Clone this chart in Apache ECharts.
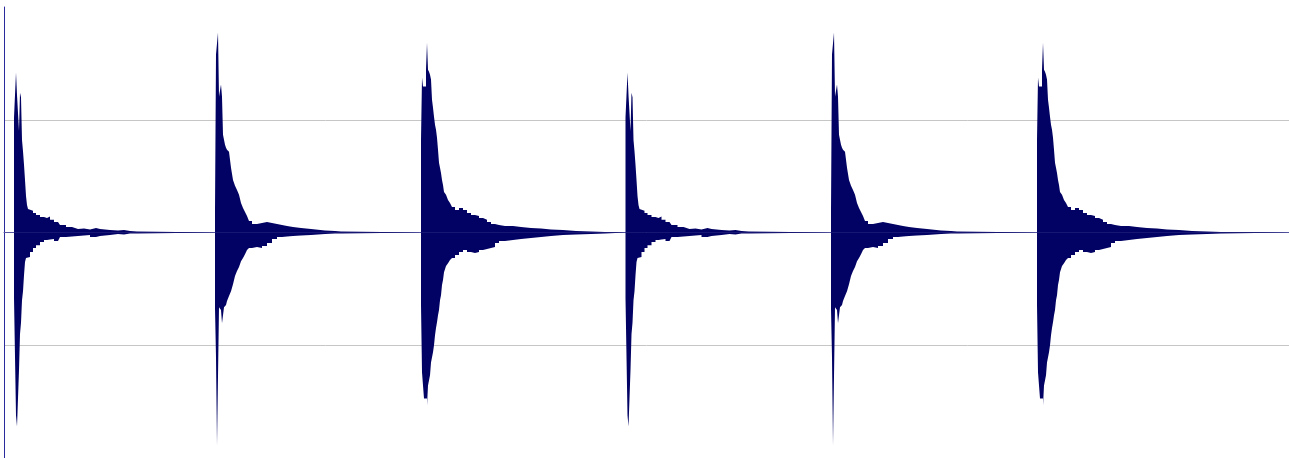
<!DOCTYPE html>
<html>
<head>
<meta charset="utf-8">
<script src="https://cdn.jsdelivr.net/npm/echarts@6/dist/echarts.min.js"></script>
<style>
  html, body { margin: 0; padding: 0; background: #ffffff; }
  #chart { width: 1289px; height: 458px; }
</style>
</head>
<body>
<div id="chart"></div>
<script>
// Waveform of six drum hits, drawn as a peak envelope (percent of full scale).
// Each hit uses one of three recorded envelopes; offsets are in time steps from the onset.

const onsets = [10, 211, 417, 621.5, 827, 1033];
const hitKinds = ['A', 'B', 'C', 'A', 'B', 'C'];
const timeEnd = 1285;

// Envelope A
const offsA = [0,1,2,3,4,5,6,7,8,9,10,11,12,13,14,16,19,22,26,30,33,36,40,44,46,52,58,64,70,76,82,86,96,104,110,116,123];
const peakA = [51,51,71,61,61,45,62,60,41,36,30,23.3,16.2,12.2,10.4,9.6,8.7,7.8,6.9,6.4,7.1,5.6,4.7,4.2,3.3,2.4,1.6,1.8,1.3,2.0,1.6,1.1,0.9,1.1,0.7,0.4,0];
const troughA = [-29,-29,-81,-86,-86,-61,-45,-40,-30,-26,-19,-13.1,-11.3,-10.9,-10.9,-8.7,-6.9,-5.6,-4.2,-3.3,-3.1,-2.9,-3.8,-3.6,-2.0,-1.8,-1.6,-1.3,-1.1,-2.0,-1.6,-1.1,-0.7,-0.9,-0.4,-0.4,0];

// Envelope B
const offsB = [0,1,2,3,4,5,6,7,8,9,10,11,12,14,16,18,20,22,24,26,28,30,32,34,37,42,47,52,57,62,67,72,78,86,96,110,120,126];
const peakB = [10,78.9,78.9,88.7,60.2,60.2,65.6,60.2,43.3,41.1,38.9,37.6,36.7,35.8,28.7,23.3,20.7,18.9,16.7,13.1,10.9,9.1,7.3,5.1,3.8,4.2,4.7,4.2,3.8,3.3,2.9,2.4,2.0,1.6,0.9,0.7,0.4,0];
const troughB = [-33.6,-55.3,-94.4,-94.4,-33.1,-33.1,-34.4,-40.2,-40.2,-33.1,-32.7,-32.2,-30.4,-28.2,-26,-22.9,-19.3,-17.1,-15.3,-12.7,-11.3,-9.6,-7.8,-6.9,-6.4,-6.9,-6.0,-4.7,-2.9,-2.0,-1.8,-1.6,-1.3,-1.1,-0.7,-0.4,-0.4,0];

// Envelope C
const offsC = [0,1,2,3,4,5,6,7,8,9,10,11,12,13,14,15,16,17,18,19,20,21,22,23,25,27,29,31,34,38,42,46,50,54,58,62,66,70,74,78,84,92,100,110,120,130,142,155,170,184];
const peakC = [41.1,68.7,64.7,64.7,64.7,72.2,84.2,72.2,71.3,70,67.8,58.9,55.3,51.3,47.8,45.6,42,36.7,30.9,28.7,26.4,23.3,21.1,18,16.7,14.4,13.1,11.3,10,10.9,10,8.7,7.8,7.3,6.4,5.6,4.7,3.8,3.3,2.9,2.9,2.4,2.0,1.8,1.3,1.1,0.7,0.4,0.2,0];
const troughC = [-32.2,-62,-62,-73.6,-73.6,-73.6,-76.7,-67.8,-67.8,-63.3,-57.6,-57.6,-53.1,-50,-45.6,-42.4,-39.8,-36.7,-34.4,-30,-27.8,-23.3,-21.1,-17.6,-14.9,-13.6,-12.2,-11.3,-10,-8.7,-7.8,-8.7,-9.1,-8.7,-7.8,-7.3,-6.9,-6.4,-4.7,-3.8,-3.3,-2.9,-2.4,-2.0,-1.6,-1.1,-0.9,-0.7,-0.4,0];

const envelopes = {
  A: { offs: offsA, peak: peakA, trough: troughA },
  B: { offs: offsB, peak: peakB, trough: troughB },
  C: { offs: offsC, peak: peakC, trough: troughC }
};

function buildTrace(key) {
  const pts = [[0, 0]];
  onsets.forEach((t0, i) => {
    const env = envelopes[hitKinds[i]];
    env.offs.forEach((o, j) => pts.push([t0 + o, env[key][j]]));
  });
  pts.push([timeEnd, 0]);
  return pts;
}

const waveColor = '#020264';

const chart = echarts.init(document.getElementById('chart'), null, { renderer: 'canvas' });
chart.setOption({
  animation: false,
  backgroundColor: '#ffffff',
  grid: { left: 4, right: 0, top: 7, bottom: 0, containLabel: false },
  xAxis: {
    type: 'value',
    min: 0,
    max: timeEnd,
    axisLine: { show: true, onZero: true, lineStyle: { color: '#5656a0', width: 1 } },
    axisTick: { show: false },
    axisLabel: { show: false },
    splitLine: { show: false }
  },
  yAxis: {
    type: 'value',
    min: -100,
    max: 100,
    interval: 50,
    axisLine: { show: true, lineStyle: { color: '#2a2a9e', width: 1 } },
    axisTick: { show: false },
    axisLabel: { show: false },
    splitLine: {
      show: true,
      showMinLine: false,
      showMaxLine: false,
      lineStyle: { color: '#c6c6c6', width: 1 }
    }
  },
  series: [
    {
      name: 'peak',
      type: 'line',
      step: 'end',
      data: buildTrace('peak'),
      showSymbol: false,
      sampling: 'none',
      lineStyle: { width: 0 },
      areaStyle: { color: waveColor, opacity: 1 },
      silent: true
    },
    {
      name: 'trough',
      type: 'line',
      step: 'end',
      data: buildTrace('trough'),
      showSymbol: false,
      sampling: 'none',
      lineStyle: { width: 0 },
      areaStyle: { color: waveColor, opacity: 1 },
      silent: true
    }
  ]
});
</script>
</body>
</html>
